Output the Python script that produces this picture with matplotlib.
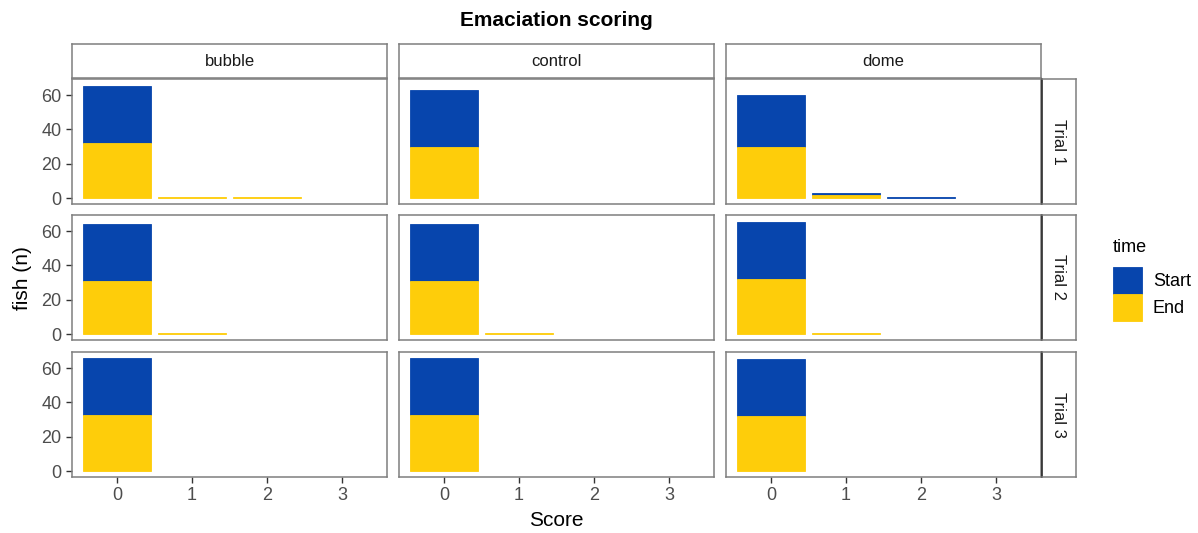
import numpy as np
import matplotlib
matplotlib.use("Agg")
import matplotlib.pyplot as plt

plt.rcParams["font.family"] = ["Liberation Sans", "DejaVu Sans"]

# facet levels
treatments = ["bubble", "control", "dome"]
trials = ["Trial 1", "Trial 2", "Trial 3"]
scores = [0, 1, 2, 3]

# fish counts per trial -> treatment -> score
end_counts = [
    [[32, 1, 1, 0], [30, 0, 0, 0], [30, 2, 0, 0]],
    [[31, 1, 0, 0], [31, 1, 0, 0], [32, 1, 0, 0]],
    [[33, 0, 0, 0], [33, 0, 0, 0], [32, 0, 0, 0]],
]
start_counts = [
    [[33, 0, 0, 0], [33, 0, 0, 0], [30, 1, 1, 0]],
    [[33, 0, 0, 0], [33, 0, 0, 0], [33, 0, 0, 0]],
    [[33, 0, 0, 0], [33, 0, 0, 0], [33, 0, 0, 0]],
]

col_start = "#0745AD"
col_end = "#FECD0A"
border = "#7F7F7F"
tick_col = "#333333"
lab_col = "#4D4D4D"

W, H = 1198, 533
fig = plt.figure(figsize=(W / 100, H / 100), dpi=100)


def px_axes(x0, y0, w, h):
    # pixel box (top-left origin) -> figure axes
    return fig.add_axes([x0 / W, 1 - (y0 + h) / H, w / W, h / H])


col_left = [72, 399, 726]
row_top = [79, 215, 352]
pw, ph = 315, 125

# global y range with ggplot style 5% expansion
totals = np.array(end_counts) + np.array(start_counts)
ymax = totals.max()
pad = 0.05 * ymax

handles = None
for r in range(3):
    for c in range(3):
        ax = px_axes(col_left[c], row_top[r], pw, ph)
        e = end_counts[r][c]
        s = start_counts[r][c]
        # zero-height bars get no edge so they stay invisible
        s_lw = [0.6 if v > 0 else 0 for v in s]
        e_lw = [0.6 if v > 0 else 0 for v in e]
        b1 = ax.bar(scores, s, bottom=e, width=0.9, color=col_start,
                    edgecolor=col_start, linewidth=s_lw, label="Start")
        b2 = ax.bar(scores, e, width=0.9, color=col_end,
                    edgecolor=col_end, linewidth=e_lw, label="End")
        handles = [b1, b2]
        ax.set_xlim(-0.6, 3.6)
        ax.set_ylim(-pad, ymax + pad)
        for sp in ax.spines.values():
            sp.set_color(border)
            sp.set_linewidth(1.1)
        ax.tick_params(colors=tick_col, labelcolor=lab_col, length=4,
                       width=1.0, labelsize=13)
        ax.set_xticks(scores)
        ax.set_yticks([0, 20, 40, 60])
        if c != 0:
            ax.tick_params(axis="y", left=False, labelleft=False)
        if r != 2:
            ax.tick_params(axis="x", bottom=False, labelbottom=False)

        # strips
        if r == 0:
            st = px_axes(col_left[c], 44, pw, 34)
            st.set_xticks([])
            st.set_yticks([])
            for sp in st.spines.values():
                sp.set_color(border)
                sp.set_linewidth(1.1)
            st.text(0.5, 0.5, treatments[c], ha="center", va="center",
                    fontsize=12, color="#1A1A1A", transform=st.transAxes)
        if c == 2:
            st = px_axes(1042, row_top[r], 34, ph)
            st.set_xticks([])
            st.set_yticks([])
            for sp in st.spines.values():
                sp.set_color(border)
                sp.set_linewidth(1.1)
            st.spines["left"].set_color("#1A1A1A")
            st.text(0.5, 0.5, trials[r], ha="center", va="center",
                    rotation=-90, fontsize=12, color="#1A1A1A",
                    transform=st.transAxes)

fig.text(556 / W, 1 - 20 / H, "Emaciation scoring", ha="center",
         va="center", fontsize=15, fontweight="bold")
fig.text(556 / W, 1 - 521 / H, "Score", ha="center", va="center",
         fontsize=15)
fig.text(22 / W, 1 - 278 / H, "fish (n)", ha="center", va="center",
         rotation=90, fontsize=15)

leg = fig.legend(handles, ["Start", "End"], title="time",
                 loc="upper left", bbox_to_anchor=(1106 / W, 1 - 232 / H),
                 frameon=False, fontsize=13, title_fontsize=13,
                 handlelength=1.6, handleheight=1.9, handletextpad=0.6,
                 labelspacing=0.0, borderaxespad=0)
leg._legend_box.align = "left"
leg._legend_box.sep = 8

fig.savefig("out.png", dpi=100)
